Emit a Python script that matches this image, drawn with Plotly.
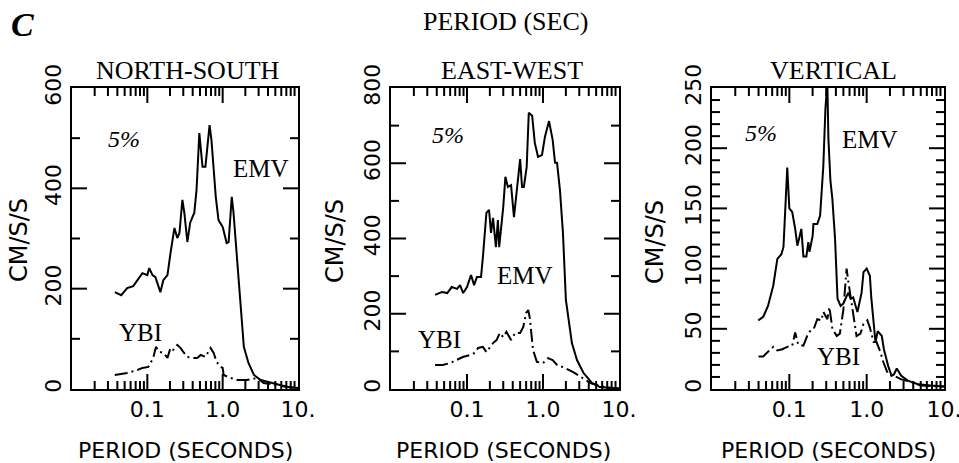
import plotly.graph_objects as go

# ---------------- data ----------------
ns_emv_t = [0.037,0.045,0.054,0.065,0.086,0.10,0.106,0.117,0.128,0.149,0.163,0.185,0.203,0.229,0.25,0.267,0.292,0.31,0.34,0.37,0.398,0.42,0.45,0.49,0.54,0.59,0.67,0.71,0.81,0.88,1.0,1.13,1.2,1.32,1.39,1.58,1.75,1.91,2.2,2.6,3.2,4.0,5.4,7.3,10]
ns_emv_v = [193,187,201,205,231,227,241,227,223,193,217,227,271,321,301,311,377,351,293,331,343,351,397,510,443,443,526,496,383,337,323,291,293,383,353,243,144,84,52,28,18,14,8,4,2]
ns_ybi_t = [0.037,0.054,0.074,0.086,0.103,0.12,0.13,0.145,0.163,0.185,0.203,0.22,0.25,0.275,0.3,0.34,0.4,0.46,0.51,0.59,0.69,0.76,0.83,0.94,1.0,1.03,1.27,1.58,2.1,2.9,3.5,4.8,7.3,10]
ns_ybi_v = [28,32,38,42,44,62,84,74,72,62,82,78,88,82,74,64,62,62,68,64,82,72,54,44,42,28,22,18,18,22,12,8,4,2]

ew_emv_t = [0.038,0.047,0.055,0.063,0.074,0.081,0.089,0.1,0.113,0.124,0.135,0.153,0.162,0.18,0.195,0.207,0.22,0.24,0.255,0.265,0.3,0.32,0.345,0.38,0.415,0.45,0.5,0.53,0.56,0.61,0.65,0.72,0.78,0.86,0.97,1.06,1.2,1.34,1.44,1.53,1.67,1.83,2.0,2.4,2.8,3.4,4.4,5.6,7.6,10]
ew_emv_v = [250,258,255,271,266,276,255,271,303,276,298,298,351,468,476,415,455,377,449,377,484,564,537,542,457,529,611,537,537,590,734,726,654,617,622,670,712,662,601,601,529,415,237,122,77,43,16,5,3,1]
ew_ybi_t = [0.038,0.048,0.06,0.074,0.088,0.109,0.127,0.14,0.162,0.18,0.2,0.22,0.245,0.27,0.3,0.33,0.38,0.43,0.5,0.55,0.6,0.64,0.67,0.74,0.83,1.0,1.16,1.34,1.53,1.83,2.5,3.3,4.2,5.6,7.6,10]
ew_ybi_v = [64,64,69,77,85,90,96,109,112,98,109,122,130,149,138,152,130,149,149,165,202,210,189,104,72,69,82,77,64,58,45,29,16,8,3,1]

vt_emv_t = [0.0396,0.046,0.053,0.062,0.07,0.079,0.084,0.089,0.094,0.1,0.109,0.119,0.127,0.135,0.143,0.152,0.166,0.176,0.182,0.2,0.205,0.23,0.25,0.275,0.293,0.31,0.32,0.34,0.36,0.39,0.42,0.46,0.5,0.55,0.58,0.62,0.67,0.72,0.76,0.86,0.91,1.0,1.1,1.15,1.23,1.3,1.39,1.57,1.67,1.9,2.1,2.25,2.45,2.8,3.4,4.6,6.7,10]
vt_emv_v = [57,60,69,86,108,112,118,152,184,150,147,133,119,126,133,110,110,122,114,127,137,137,144,185,233,255,208,173,158,125,75,69,71,77,80,75,76,69,64,80,97,100,94,75,52,39,48,44,33,19,11,12,17,11,7,4,3,2]
vt_ybi_t = [0.04,0.046,0.057,0.062,0.07,0.081,0.094,0.109,0.119,0.13,0.152,0.17,0.193,0.21,0.23,0.26,0.275,0.31,0.33,0.36,0.41,0.45,0.5,0.55,0.58,0.62,0.67,0.74,0.83,0.91,1.02,1.1,1.23,1.34,1.5,1.65,1.9,2.25,2.8,3.7,5.0,10]
vt_ybi_v = [27,27,33,35,32,33,35,36,47,37,36,44,50,51,58,57,64,58,68,50,44,46,66,100,89,77,64,44,46,54,57,51,39,39,31,22,12,11,8,6,3,2]

panel_titles = ["NORTH-SOUTH", "EAST-WEST", "VERTICAL"]
y_max = [600, 800, 250]
y_major = [200, 200, 50]
y_minor = [100, 100, 10]
x_decades = [0.01, 0.1, 1, 10]
x_decade_text = ["", "0.1", "1.0", "10."]

# ---------------- layout geometry (pixels) ----------------
W, H = 959, 463
def fx(x): return x / W
def fy(y): return 1 - y / H

panel_px = [(72, 298), (391, 619), (712, 944)]
y_top, y_bot = 88, 389
X_LOG_MIN, X_LOG_MAX = -2, 1
MAJOR_LEN, MINOR_LEN = 15, 8

SERIF = "Liberation Serif"
SANS = "DejaVu Sans"

# x tick positions: decades (labelled) plus 2..9 subdivisions (blank)
x_tickvals, x_ticktext, x_is_major = [], [], []
for d, t in zip(x_decades, x_decade_text):
    x_tickvals.append(d); x_ticktext.append(t); x_is_major.append(True)
    if d < x_decades[-1]:
        for k in range(2, 10):
            x_tickvals.append(k * d); x_ticktext.append(""); x_is_major.append(False)

fig = go.Figure()
series = [
    (ns_emv_t, ns_emv_v, ns_ybi_t, ns_ybi_v),
    (ew_emv_t, ew_emv_v, ew_ybi_t, ew_ybi_v),
    (vt_emv_t, vt_emv_v, vt_ybi_t, vt_ybi_v),
]
for i, (et, ev, yt, yv) in enumerate(series):
    sfx = "" if i == 0 else str(i + 1)
    l, r = panel_px[i]
    ymax = y_max[i]
    y_vals = list(range(0, ymax + 1, y_minor[i]))
    y_text = [str(v) if v % y_major[i] == 0 else "" for v in y_vals]

    fig.add_trace(go.Scatter(x=et, y=ev, mode="lines", xaxis="x" + sfx, yaxis="y" + sfx,
                             line=dict(color="black", width=2), showlegend=False, name="EMV"))
    fig.add_trace(go.Scatter(x=yt, y=yv, mode="lines", xaxis="x" + sfx, yaxis="y" + sfx,
                             line=dict(color="black", width=2, dash="13px,4px,2px,4px"),
                             showlegend=False, name="YBI"))

    # inward tick marks on all four sides, derived from the tick arrays and axis ranges
    tx, ty = [], []
    for v, major in zip(x_tickvals, x_is_major):
        if v <= x_decades[0] or v >= x_decades[-1]:
            continue
        dy = (MAJOR_LEN if major else MINOR_LEN) / (y_bot - y_top) * ymax
        tx += [v, v, None, v, v, None]
        ty += [0, dy, None, ymax, ymax - dy, None]
    decades = X_LOG_MAX - X_LOG_MIN
    for v in y_vals:
        if v <= 0 or v >= ymax:
            continue
        frac = (MAJOR_LEN if v % y_major[i] == 0 else MINOR_LEN) / (r - l) * decades
        tx += [10 ** X_LOG_MIN, 10 ** (X_LOG_MIN + frac), None,
               10 ** X_LOG_MAX, 10 ** (X_LOG_MAX - frac), None]
        ty += [v, v, None, v, v, None]
    fig.add_trace(go.Scatter(x=tx, y=ty, mode="lines", xaxis="x" + sfx, yaxis="y" + sfx,
                             line=dict(color="black", width=2), showlegend=False,
                             hoverinfo="skip", name="ticks"))

    fig.update_layout(**{
        "xaxis" + sfx: dict(
            domain=[fx(l), fx(r)], anchor="y" + sfx, type="log", range=[X_LOG_MIN, X_LOG_MAX],
            automargin=False, ticklabeloverflow="allow",
            tickmode="array", tickvals=x_tickvals, ticktext=x_ticktext,
            ticks="", mirror=True, showline=True, linewidth=2, linecolor="black",
            showgrid=False, zeroline=False,
            tickfont=dict(family=SANS, size=22, color="black"),
        ),
        "yaxis" + sfx: dict(
            domain=[fy(y_bot), fy(y_top)], anchor="x" + sfx, range=[0, ymax],
            automargin=False,
            tickmode="array", tickvals=y_vals, ticktext=y_text,
            ticks="", mirror=True, showline=True, linewidth=2, linecolor="black",
            showgrid=False, zeroline=False, tickangle=-90,
            tickfont=dict(family=SANS, size=22, color="black"),
        ),
    })

ann = []
def text(x, y, s, family, size, angle=0):
    ann.append(dict(x=fx(x), y=fy(y), xref="paper", yref="paper", text=s, showarrow=False,
                    xanchor="center", yanchor="middle", textangle=angle,
                    font=dict(family=family, size=size, color="black")))

text(22, 25, "<b><i>C</i></b>", SERIF, 34)
text(505, 21, "PERIOD (SEC)", SERIF, 26)

title_pos = [(188, 70), (512, 70), (833, 70)]
xlabel_pos = [(185, 450), (503, 450), (828, 450)]
ylabel_pos = [(19, 240), (335, 241), (655, 242)]
pct_pos = [(124, 139), (448, 135), (761, 133)]
emv_pos = [(261, 168), (525, 275), (870, 139)]
ybi_pos = [(140, 332), (439, 339), (838, 356)]
for i in range(3):
    text(*title_pos[i], panel_titles[i], SERIF, 26)
    text(*xlabel_pos[i], "PERIOD (SECONDS)", SANS, 22)
    text(*ylabel_pos[i], "CM/S/S", SANS, 24, angle=-90)
    text(*pct_pos[i], "<i>5%</i>", SERIF, 24)
    text(*emv_pos[i], "EMV", SERIF, 25)
    text(*ybi_pos[i], "YBI", SERIF, 25)

fig.update_layout(template="none", width=W, height=H, margin=dict(l=0, r=0, t=0, b=0),
                  paper_bgcolor="white", plot_bgcolor="white", annotations=ann)

fig.write_html("out.html")
